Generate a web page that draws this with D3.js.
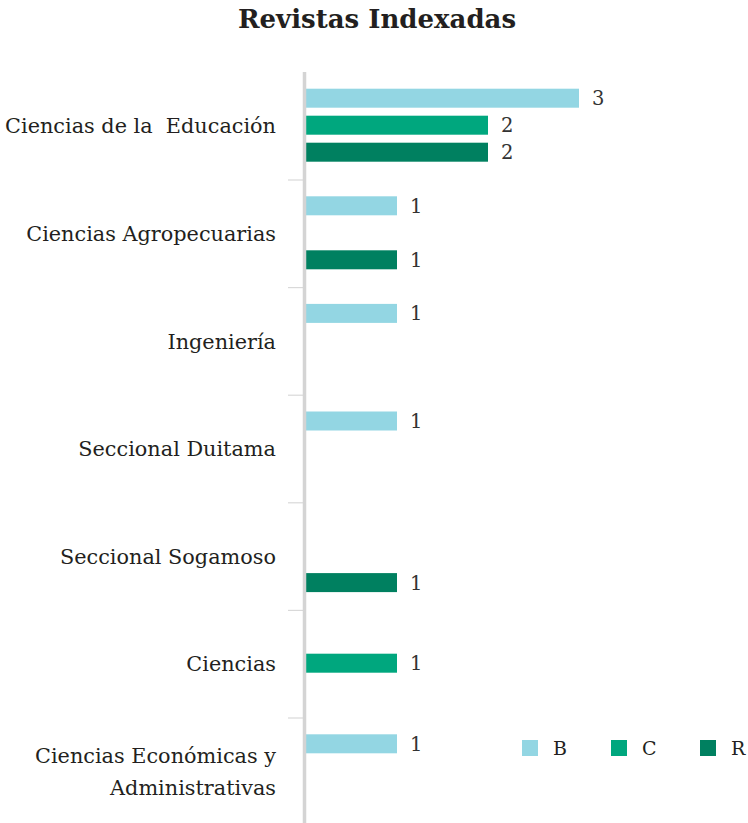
<!DOCTYPE html>
<html><head><meta charset="utf-8">
<script src="https://cdn.jsdelivr.net/npm/d3@7"></script>
<style>body{margin:0;background:#fff}svg{display:block}</style>
</head><body>
<svg id="c" width="748" height="823"></svg>
<script>
const title = "Revistas Indexadas";
const categories = [
  ["Ciencias de la  Educación"],
  ["Ciencias Agropecuarias"],
  ["Ingeniería"],
  ["Seccional Duitama"],
  ["Seccional Sogamoso"],
  ["Ciencias"],
  ["Ciencias Económicas y", "Administrativas"]
];
const seriesNames = ["B", "C", "R"];
const valuesB = [3, 1, 1, 1, null, null, 1];
const valuesC = [2, null, null, null, null, 1, null];
const valuesR = [2, 1, null, null, 1, null, null];
const colors = ["#93d6e3", "#00a77e", "#008060"];

const series = [valuesB, valuesC, valuesR];
const svg = d3.select("#c");
const fontSerif = "'DejaVu Serif', serif";

const x = d3.scaleLinear().domain([0, 3]).range([306, 579]);
const y = d3.scaleBand().domain(d3.range(categories.length)).range([72.4, 825.6]);
const ySub = d3.scaleBand().domain(seriesNames).range([16.3, 89.3]).paddingInner(8/27);

svg.append("text").attr("x", 377).attr("y", 28).attr("text-anchor", "middle")
  .attr("font-family", fontSerif).attr("font-weight", "bold").attr("font-size", 26)
  .attr("fill", "#231f20").text(title);

// ticks
const tickY = d3.range(1, categories.length).map(i => y(i));
svg.selectAll("line.tick").data(tickY).join("line")
  .attr("x1", 288).attr("x2", 303).attr("y1", d => d).attr("y2", d => d)
  .attr("stroke", "#d9d9d9").attr("stroke-width", 1.2);

// bars
categories.forEach((cat, i) => {
  seriesNames.forEach((s, j) => {
    const v = series[j][i];
    if (v == null) return;
    const yy = y(i) + ySub(s);
    svg.append("rect").attr("x", x(0)).attr("y", yy)
      .attr("width", x(v) - x(0)).attr("height", ySub.bandwidth())
      .attr("fill", colors[j]);
    svg.append("text").attr("x", x(v) + 13).attr("y", yy + ySub.bandwidth()/2)
      .attr("dy", "0.36em").attr("font-family", fontSerif).attr("font-size", 19.5)
      .attr("fill", "#333").text(v);
  });
  const lines = cat;
  const cy = y(i) + y.bandwidth()/2;
  const t = svg.append("text").attr("text-anchor", "end")
    .attr("font-family", fontSerif).attr("font-size", 20.8).attr("fill", "#231f20")
    .style("white-space", "pre");
  lines.forEach((l, k) => {
    t.append("tspan").attr("x", 276)
      .attr("y", cy + (k - (lines.length - 1)/2) * 32).attr("dy", "0.35em").text(l);
  });
});

// axis line
svg.append("line").attr("x1", 304.5).attr("x2", 304.5).attr("y1", 72).attr("y2", 823)
  .attr("stroke", "#d4d4d4").attr("stroke-width", 3.5);

// legend
const legendX = [522, 611, 700];
seriesNames.forEach((s, j) => {
  svg.append("rect").attr("x", legendX[j]).attr("y", 740).attr("width", 16).attr("height", 16)
    .attr("fill", colors[j]);
  svg.append("text").attr("x", legendX[j] + 31).attr("y", 748).attr("dy", "0.36em")
    .attr("font-family", fontSerif).attr("font-size", 19).attr("fill", "#231f20").text(s);
});
</script>
</body></html>
